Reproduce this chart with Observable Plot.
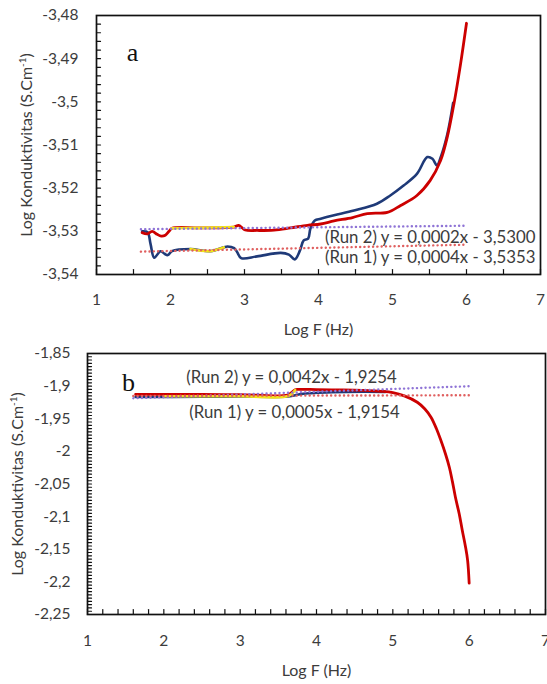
<!DOCTYPE html>
<html>
<head>
<meta charset="utf-8">
<script src="https://cdn.jsdelivr.net/npm/d3@7"></script>
<script src="https://cdn.jsdelivr.net/npm/@observablehq/plot@0.6"></script>
<style>
  body { margin: 0; background: #fff; }
  #chart svg { display: block; }
</style>
</head>
<body>
<div id="chart"></div>
<script>
// ---------- Panel a data (Log F, Log conductivity) ----------
const redA = [
  [1.617,-3.5303],[1.685,-3.5306],[1.752,-3.5300],[1.82,-3.5307],[1.874,-3.5311],[1.93,-3.5309],
  [1.98,-3.5300],[2.02,-3.5293],[2.4,-3.5292],[2.856,-3.5290],[2.92,-3.5286],[2.97,-3.5292],
  [3.01,-3.5297],[3.17,-3.5298],[3.40,-3.5297],[3.62,-3.5292],[3.85,-3.5286],[4.03,-3.5283],
  [4.21,-3.5276],[4.46,-3.5268],[4.66,-3.5259],[4.93,-3.5256],[5.11,-3.5240],[5.33,-3.5217],
  [5.51,-3.5182],[5.65,-3.5136],[5.74,-3.5082],[5.83,-3.5005],[5.92,-3.4912],[6.0,-3.4818]
];
const blueA = [
  [1.617,-3.5300],[1.69,-3.5302],[1.73,-3.5329],[1.78,-3.5361],[1.865,-3.5346],[1.92,-3.5352],
  [1.964,-3.5355],[2.02,-3.5346],[2.27,-3.5341],[2.54,-3.5346],[2.72,-3.5337],[2.77,-3.5335],
  [2.86,-3.5339],[2.90,-3.5348],[2.955,-3.5362],[3.17,-3.5358],[3.49,-3.5350],[3.60,-3.5354],
  [3.68,-3.5365],[3.75,-3.5344],[3.80,-3.5321],[3.86,-3.5317],[3.89,-3.5294],[3.95,-3.5275],
  [4.03,-3.5271],[4.21,-3.5263],[4.48,-3.5252],[4.79,-3.5236],[4.97,-3.5217],[5.15,-3.5194],
  [5.33,-3.5167],[5.47,-3.5128],[5.54,-3.5132],[5.60,-3.5147],[5.66,-3.5124],[5.74,-3.5076],
  [5.82,-3.5002]
];
const yellowA1 = [[2.02,-3.5293],[2.4,-3.5292],[2.856,-3.5290]];
const yellowA2 = [[2.27,-3.5341],[2.54,-3.5346],[2.72,-3.5337]];
const trendA2 = [[1.6,-3.5295],[6.0,-3.5287]];   // (Run 2) dotted
const trendA1 = [[1.6,-3.5347],[6.0,-3.5331]];   // (Run 1) dotted
const eqA = ["(Run 2) y = 0,0002x - 3,5300", "(Run 1) y = 0,0004x - 3,5353"];
const yLabelsA = [-3.54,-3.53,-3.52,-3.51,-3.5,-3.49,-3.48];
const xLabels = [1,2,3,4,5,6,7];

// ---------- Panel b data ----------
const redB = [
  [1.63,-1.9125],[2.5,-1.9128],[3.0,-1.9130],[3.63,-1.9132],[3.72,-1.9055],[3.76,-1.9050],
  [4.0,-1.9053],[4.3,-1.9058],[4.6,-1.9066],[4.85,-1.9080],[5.0,-1.9100],[5.15,-1.9150],
  [5.32,-1.9247],[5.42,-1.9350],[5.50,-1.9477],[5.57,-1.9650],[5.63,-1.9834],[5.69,-2.0040],
  [5.74,-2.0243],[5.78,-2.0460],[5.82,-2.0703],[5.87,-2.0960],[5.91,-2.1213],[5.95,-2.1450],
  [5.98,-2.1673],[6.0,-2.2020]
];
const blueB = [
  [1.63,-1.9165],[2.5,-1.9163],[3.0,-1.9160],[3.63,-1.9158],[3.8,-1.9120],[4.2,-1.9095],
  [4.6,-1.9085],[4.9,-1.9088]
];
const yellowB = [[2.0,-1.9155],[3.0,-1.9155],[3.63,-1.9152],[3.72,-1.9062]];
const trendB2 = [[1.6,-1.9187],[6.0,-1.9002]];
const trendB1 = [[1.6,-1.9150],[6.0,-1.9140]];
const eqB = ["(Run 2) y = 0,0042x - 1,9254", "(Run 1) y = 0,0005x - 1,9154"];
const yLabelsB = [-2.25,-2.2,-2.15,-2.1,-2.05,-2,-1.95,-1.9,-1.85];

const RED = "#cc0000", BLUE = "#1f3a78", YELLOW = "#f2e21a", PURPLE = "#8f74d6", REDDOT = "#e06060";
const TXT = "#3c3c3c";
const FONT = "Lato, 'Open Sans', sans-serif";
const tickShape = {draw(ctx, l) { ctx.moveTo(0, 0); ctx.lineTo(0, -l); }};
const fmt = d => String(d).replace(".", ",");

function panel(o) {
  const line = (data, stroke, width, extra = {}) =>
    Plot.line(data, {x: d => d[0], y: d => d[1], stroke, strokeWidth: width, curve: "catmull-rom", ...extra});
  const dotted = {strokeDasharray: "0.1,4.2", strokeLinecap: "round", curve: "linear"};
  const svg = Plot.plot({
    width: 547, height: o.height,
    marginLeft: o.ml, marginRight: o.mr, marginTop: o.mt, marginBottom: o.mb,
    x: {domain: [1, 7]},
    y: {domain: o.ydomain},
    style: {fontFamily: FONT, fontSize: "15.5px", color: TXT, background: "#fff", overflow: "visible"},
    marks: [
      line(o.blue, BLUE, 2.6),
      line(o.red, RED, 2.8),
      ...o.yellow.map(s => line(s, YELLOW, 2.6)),
      line(o.trend2, PURPLE, 2.4, dotted),
      line(o.trend1, REDDOT, 2.4, dotted),
      Plot.vector(o.xTicks, {x: d => d, frameAnchor: "bottom", length: 5, rotate: 0, anchor: "start", shape: tickShape, stroke: "#111", strokeWidth: 1.2}),
      Plot.vector(o.yTicks, {y: d => d, frameAnchor: "left", length: 4, rotate: 90, anchor: "start", shape: tickShape, stroke: "#111", strokeWidth: 1.2}),
      Plot.frame({stroke: "#111", strokeWidth: 1.7}),
      Plot.axisX({ticks: xLabels, tickSize: 0, tickPadding: o.xpad, tickFormat: d => String(d), label: null, fill: TXT}),
      Plot.axisY({ticks: o.yLabels, tickSize: 0, tickPadding: o.ypad, tickFormat: fmt, label: null, fill: TXT}),
      Plot.text([o.letter], {text: d => d, frameAnchor: "top-left", dx: o.letterDx, dy: o.letterDy,
        fontFamily: "'Liberation Serif', 'DejaVu Serif', serif", fontSize: 26, fill: "#111",
        textAnchor: "middle", lineAnchor: "middle"}),
      ...o.eq.map((t, i) => Plot.text([t], {text: d => d, frameAnchor: o.eqAnchor, dx: o.eqDx[i], dy: o.eqDy[i],
        textAnchor: o.eqText, lineAnchor: "middle", fontSize: 16.8, fill: TXT})),
      Plot.text(["Log F (Hz)"], {text: d => d, frameAnchor: "bottom", dy: o.xTitleDy, lineAnchor: "middle", fontSize: 16, fill: TXT}),
      Plot.text(["Log Konduktivitas (S.Cm-1)"], {text: d => d, frameAnchor: "left", dx: -70, rotate: -90,
        lineAnchor: "middle", textAnchor: "middle", fontSize: 16, fill: TXT})
    ]
  });
  d3.select(svg).selectAll("text").filter(function() { return this.textContent === "Log Konduktivitas (S.Cm-1)"; })
    .html('Log Konduktivitas (S.Cm<tspan baseline-shift="super" font-size="10px">-1</tspan>)');
  return svg;
}

const root = document.getElementById("chart");
root.appendChild(panel({
  height: 335, ml: 96, mr: 7, mt: 15, mb: 61, ydomain: [-3.54, -3.48],
  red: redA, blue: blueA, yellow: [yellowA1, yellowA2], trend1: trendA1, trend2: trendA2,
  xTicks: d3.range(1, 7.01, 0.5), yTicks: d3.range(0, 31).map(i => -3.54 + i * 0.002),
  yLabels: yLabelsA, xpad: 19, ypad: 18,
  letter: "a", letterDx: 36, letterDy: 37,
  eq: eqA, eqAnchor: "bottom-right", eqDx: [-5, -5], eqDy: [-37, -17], eqText: "end",
  xTitleDy: 55
}));
root.appendChild(panel({
  height: 349, ml: 87, mr: 2, mt: 18, mb: 70, ydomain: [-2.25, -1.85],
  red: redB, blue: blueB, yellow: [yellowB], trend1: trendB1, trend2: trendB2,
  xTicks: d3.range(0, 31).map(i => 1 + i * 0.2), yTicks: d3.range(0, 81).map(i => -2.25 + i * 0.005),
  yLabels: yLabelsB, xpad: 20, ypad: 17,
  letter: "b", letterDx: 41, letterDy: 29,
  eq: eqB, eqAnchor: "top-left", eqDx: [204, 207], eqDy: [24, 59], eqText: "middle",
  xTitleDy: 56
}));
</script>
</body>
</html>
